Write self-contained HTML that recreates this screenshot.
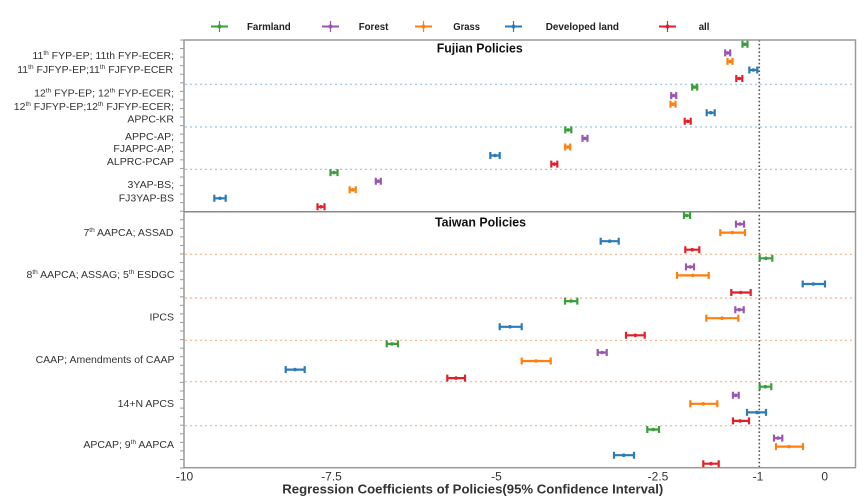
<!DOCTYPE html>
<html><head><meta charset="utf-8"><style>
html,body{margin:0;padding:0;background:#fff;}
svg{display:block;}
text{font-family:"Liberation Sans",Arial,sans-serif;}
</style></head><body>
<svg width="867" height="498" viewBox="0 0 867 498" xmlns="http://www.w3.org/2000/svg">
<defs>
<g id="c"></g>
</defs>
<!-- legend -->
<g stroke-width="2" fill="none">
 <g stroke="#3a9e3a"><line x1="211" y1="26.5" x2="228" y2="26.5"/><line x1="219.5" y1="21" x2="219.5" y2="32" stroke-width="1.2"/></g>
 <g stroke="#9a56b0"><line x1="322" y1="26.5" x2="339" y2="26.5"/><line x1="330.5" y1="21" x2="330.5" y2="32" stroke-width="1.2"/></g>
 <g stroke="#ff7f0e"><line x1="415" y1="26.5" x2="432" y2="26.5"/><line x1="423.5" y1="21" x2="423.5" y2="32" stroke-width="1.2"/></g>
 <g stroke="#2b7bba"><line x1="505" y1="26.5" x2="522" y2="26.5"/><line x1="513.5" y1="21" x2="513.5" y2="32" stroke-width="1.2"/></g>
 <g stroke="#e3202a"><line x1="659" y1="26.5" x2="676" y2="26.5"/><line x1="667.5" y1="21" x2="667.5" y2="32" stroke-width="1.2"/></g>
</g>
<g fill="#3a9e3a"><circle cx="219.5" cy="26.5" r="2"/></g>
<g fill="#9a56b0"><circle cx="330.5" cy="26.5" r="2"/></g>
<g fill="#ff7f0e"><circle cx="423.5" cy="26.5" r="2"/></g>
<g fill="#2b7bba"><circle cx="513.5" cy="26.5" r="2"/></g>
<g fill="#e3202a"><circle cx="667.5" cy="26.5" r="2"/></g>
<g font-size="10" font-weight="bold" fill="#222">
 <text x="247" y="30" textLength="43.7" lengthAdjust="spacingAndGlyphs">Farmland</text>
 <text x="358.7" y="30" textLength="29.7" lengthAdjust="spacingAndGlyphs">Forest</text>
 <text x="453.3" y="30" textLength="26.7" lengthAdjust="spacingAndGlyphs">Grass</text>
 <text x="545.7" y="30" textLength="73.3" lengthAdjust="spacingAndGlyphs">Developed land</text>
 <text x="698.7" y="30" textLength="10.7" lengthAdjust="spacingAndGlyphs">all</text>
</g>

<!-- grid dashed lines -->
<g stroke="#9cc3e0" stroke-width="1.2" stroke-dasharray="2 3">
 <line x1="185" y1="84.3" x2="855" y2="84.3"/>
 <line x1="185" y1="127" x2="855" y2="127"/>
 <line x1="185" y1="169.3" x2="855" y2="169.3"/>
</g>
<g stroke="#f5b58a" stroke-width="1.2" stroke-dasharray="2 3">
 <line x1="185" y1="254.3" x2="855" y2="254.3"/>
 <line x1="185" y1="298" x2="855" y2="298"/>
 <line x1="185" y1="340.3" x2="855" y2="340.3"/>
 <line x1="185" y1="381.7" x2="855" y2="381.7"/>
 <line x1="185" y1="425.7" x2="855" y2="425.7"/>
</g>
<!-- vertical dotted line at -1 -->
<line x1="759.3" y1="40" x2="759.3" y2="468" stroke="#555" stroke-width="1.6" stroke-dasharray="1.6 2.2"/>

<!-- frame -->
<rect x="184" y="40" width="671.5" height="427.7" fill="none" stroke="#999" stroke-width="1.5"/>
<line x1="184" y1="211.7" x2="855.5" y2="211.7" stroke="#888" stroke-width="1.5"/>
<!-- left ticks -->
<g stroke="#999" stroke-width="1">
 <line x1="180" y1="40" x2="184" y2="40"/><line x1="180" y1="48.56" x2="184" y2="48.56"/><line x1="180" y1="57.12" x2="184" y2="57.12"/><line x1="180" y1="65.68" x2="184" y2="65.68"/><line x1="180" y1="74.24" x2="184" y2="74.24"/><line x1="180" y1="82.8" x2="184" y2="82.8"/><line x1="180" y1="91.36" x2="184" y2="91.36"/><line x1="180" y1="99.92" x2="184" y2="99.92"/><line x1="180" y1="108.48" x2="184" y2="108.48"/><line x1="180" y1="117.04" x2="184" y2="117.04"/><line x1="180" y1="125.6" x2="184" y2="125.6"/><line x1="180" y1="134.16" x2="184" y2="134.16"/><line x1="180" y1="142.72" x2="184" y2="142.72"/><line x1="180" y1="151.28" x2="184" y2="151.28"/><line x1="180" y1="159.84" x2="184" y2="159.84"/><line x1="180" y1="168.4" x2="184" y2="168.4"/><line x1="180" y1="176.96" x2="184" y2="176.96"/><line x1="180" y1="185.52" x2="184" y2="185.52"/><line x1="180" y1="194.08" x2="184" y2="194.08"/><line x1="180" y1="202.64" x2="184" y2="202.64"/><line x1="180" y1="211.2" x2="184" y2="211.2"/><line x1="180" y1="219.76" x2="184" y2="219.76"/><line x1="180" y1="228.32" x2="184" y2="228.32"/><line x1="180" y1="236.88" x2="184" y2="236.88"/><line x1="180" y1="245.44" x2="184" y2="245.44"/><line x1="180" y1="254" x2="184" y2="254"/><line x1="180" y1="262.56" x2="184" y2="262.56"/><line x1="180" y1="271.12" x2="184" y2="271.12"/><line x1="180" y1="279.68" x2="184" y2="279.68"/><line x1="180" y1="288.24" x2="184" y2="288.24"/><line x1="180" y1="296.8" x2="184" y2="296.8"/><line x1="180" y1="305.36" x2="184" y2="305.36"/><line x1="180" y1="313.92" x2="184" y2="313.92"/><line x1="180" y1="322.48" x2="184" y2="322.48"/><line x1="180" y1="331.04" x2="184" y2="331.04"/><line x1="180" y1="339.6" x2="184" y2="339.6"/><line x1="180" y1="348.16" x2="184" y2="348.16"/><line x1="180" y1="356.72" x2="184" y2="356.72"/><line x1="180" y1="365.28" x2="184" y2="365.28"/><line x1="180" y1="373.84" x2="184" y2="373.84"/><line x1="180" y1="382.4" x2="184" y2="382.4"/><line x1="180" y1="390.96" x2="184" y2="390.96"/><line x1="180" y1="399.52" x2="184" y2="399.52"/><line x1="180" y1="408.08" x2="184" y2="408.08"/><line x1="180" y1="416.64" x2="184" y2="416.64"/><line x1="180" y1="425.2" x2="184" y2="425.2"/><line x1="180" y1="433.76" x2="184" y2="433.76"/><line x1="180" y1="442.32" x2="184" y2="442.32"/><line x1="180" y1="450.88" x2="184" y2="450.88"/><line x1="180" y1="459.44" x2="184" y2="459.44"/><line x1="180" y1="468" x2="184" y2="468"/>
</g>

<!-- section titles -->
<text x="436.7" y="52.5" font-size="12.5" font-weight="bold" fill="#111" textLength="86" lengthAdjust="spacingAndGlyphs">Fujian Policies</text>
<text x="435" y="226.5" font-size="12.5" font-weight="bold" fill="#111" textLength="91" lengthAdjust="spacingAndGlyphs">Taiwan Policies</text>

<!-- left labels -->
<g font-size="10.5" fill="#333" text-anchor="end">
 <text x="174" y="58.8">11<tspan font-size="6.5" dy="-4">th</tspan><tspan dy="4"> FYP-EP; 11th FYP-ECER;</tspan></text>
 <text x="173" y="72.8">11<tspan font-size="6.5" dy="-4">th</tspan><tspan dy="4"> FJFYP-EP;11</tspan><tspan font-size="6.5" dy="-4">th</tspan><tspan dy="4"> FJFYP-ECER</tspan></text>
 <text x="174" y="96.5">12<tspan font-size="6.5" dy="-4">th</tspan><tspan dy="4">  FYP-EP; 12</tspan><tspan font-size="6.5" dy="-4">th</tspan><tspan dy="4"> FYP-ECER;</tspan></text>
 <text x="174" y="109.8">12<tspan font-size="6.5" dy="-4">th</tspan><tspan dy="4"> FJFYP-EP;12</tspan><tspan font-size="6.5" dy="-4">th</tspan><tspan dy="4"> FJFYP-ECER;</tspan></text>
 <text x="174" y="122.5">APPC-KR</text>
 <text x="174" y="139.8">APPC-AP;</text>
 <text x="174" y="151.8">FJAPPC-AP;</text>
 <text x="174" y="165">ALPRC-PCAP</text>
 <text x="174" y="187.8">3YAP-BS;</text>
 <text x="174" y="201.5">FJ3YAP-BS</text>
 <text x="173.5" y="236">7<tspan font-size="6.5" dy="-4">th</tspan><tspan dy="4">  AAPCA; ASSAD</tspan></text>
 <text x="174.5" y="277.8">8<tspan font-size="6.5" dy="-4">th</tspan><tspan dy="4"> AAPCA; ASSAG; 5</tspan><tspan font-size="6.5" dy="-4">th</tspan><tspan dy="4"> ESDGC</tspan></text>
 <text x="174" y="320.5">IPCS</text>
 <text x="174.5" y="362.8">CAAP; Amendments of CAAP</text>
 <text x="174" y="406.8">14+N APCS</text>
 <text x="174" y="448">APCAP; 9<tspan font-size="6.5" dy="-4">th</tspan><tspan dy="4"> AAPCA</tspan></text>
</g>

<!-- x tick labels -->
<g font-size="12" fill="#333" text-anchor="middle">
 <text x="184.5" y="480.5">-10</text>
 <text x="331.5" y="480.5">-7.5</text>
 <text x="496.5" y="480.5">-5</text>
 <text x="658" y="480.5">-2.5</text>
 <text x="758" y="480.5">-1</text>
 <text x="824.7" y="480.5">0</text>
</g>
<text x="282.3" y="493.5" font-size="13" font-weight="bold" fill="#333" textLength="381" lengthAdjust="spacingAndGlyphs">Regression Coefficients of Policies(95% Confidence Interval)</text>

<!-- error bars -->
<g stroke-width="2.2" fill="none" id="bars">
<!-- Fujian -->
<g stroke="#3a9e3a">
 <path d="M742.5 44.3H747.5M742.5 40.8V47.8M747.5 40.8V47.8"/>
 <path d="M692.2 87.1H697.2M692.2 83.6V90.6M697.2 83.6V90.6"/>
 <path d="M565.3 129.9H571.3M565.3 126.4V133.4M571.3 126.4V133.4"/>
 <path d="M330.5 172.6H337.5M330.5 169.1V176.1M337.5 169.1V176.1"/>
</g>
<g stroke="#9a56b0">
 <path d="M725.2 52.9H730.2M725.2 49.4V56.4M730.2 49.4V56.4"/>
 <path d="M671.2 95.6H676.2M671.2 92.1V99.1M676.2 92.1V99.1"/>
 <path d="M582.5 138.4H587.5M582.5 134.9V141.9M587.5 134.9V141.9"/>
 <path d="M375.8 181.2H380.8M375.8 177.7V184.7M380.8 177.7V184.7"/>
</g>
<g stroke="#ff7f0e">
 <path d="M727.5 61.4H732.5M727.5 57.9V64.9M732.5 57.9V64.9"/>
 <path d="M670.5 104.2H675.5M670.5 100.7V107.7M675.5 100.7V107.7"/>
 <path d="M565.2 147H570.2M565.2 143.5V150.5M570.2 143.5V150.5"/>
 <path d="M349.7 189.7H355.7M349.7 186.2V193.2M355.7 186.2V193.2"/>
</g>
<g stroke="#2b7bba">
 <path d="M749.3 70H757.3M749.3 66.5V73.5M757.3 66.5V73.5"/>
 <path d="M706.7 112.7H714.7M706.7 109.2V116.2M714.7 109.2V116.2"/>
 <path d="M490.3 155.5H499.7M490.3 152V159M499.7 152V159"/>
 <path d="M214.3 198.3H225.7M214.3 194.8V201.8M225.7 194.8V201.8"/>
</g>
<g stroke="#e3202a">
 <path d="M736.3 78.5H742.3M736.3 75V82M742.3 75V82"/>
 <path d="M684.7 121.3H690.7M684.7 117.8V124.8M690.7 117.8V124.8"/>
 <path d="M551.3 164.1H557.3M551.3 160.6V167.6M557.3 160.6V167.6"/>
 <path d="M317.5 206.8H324.5M317.5 203.3V210.3M324.5 203.3V210.3"/>
</g>
<!-- Taiwan -->
<g stroke="#3a9e3a">
 <path d="M684 215.5H690M684 212V219M690 212V219"/>
 <path d="M759.7 258.3H772.3M759.7 254.8V261.8M772.3 254.8V261.8"/>
 <path d="M565 301.1H577.3M565 297.6V304.6M577.3 297.6V304.6"/>
 <path d="M386.7 343.9H398M386.7 340.4V347.4M398 340.4V347.4"/>
 <path d="M759.7 386.7H771.3M759.7 383.2V390.2M771.3 383.2V390.2"/>
 <path d="M647.3 429.5H659M647.3 426V433M659 426V433"/>
</g>
<g stroke="#9a56b0">
 <path d="M736 224.1H744M736 220.6V227.6M744 220.6V227.6"/>
 <path d="M686 266.9H694M686 263.4V270.4M694 263.4V270.4"/>
 <path d="M735.3 309.7H743.7M735.3 306.2V313.2M743.7 306.2V313.2"/>
 <path d="M597.7 352.5H606.7M597.7 349V356M606.7 349V356"/>
 <path d="M733 395.3H738.7M733 391.8V398.8M738.7 391.8V398.8"/>
 <path d="M774 438.1H782.3M774 434.6V441.6M782.3 434.6V441.6"/>
</g>
<g stroke="#ff7f0e">
 <path d="M720.3 232.6H745M720.3 229.1V236.1M745 229.1V236.1"/>
 <path d="M677 275.4H708.7M677 271.9V278.9M708.7 271.9V278.9"/>
 <path d="M706.3 318.2H738.3M706.3 314.7V321.7M738.3 314.7V321.7"/>
 <path d="M521.7 361H550.7M521.7 357.5V364.5M550.7 357.5V364.5"/>
 <path d="M690.3 403.8H717.3M690.3 400.3V407.3M717.3 400.3V407.3"/>
 <path d="M776 446.6H803M776 443.1V450.1M803 443.1V450.1"/>
</g>
<g stroke="#2b7bba">
 <path d="M600.7 241.2H618.7M600.7 237.7V244.7M618.7 237.7V244.7"/>
 <path d="M802.7 284H825M802.7 280.5V287.5M825 280.5V287.5"/>
 <path d="M499.7 326.8H521.7M499.7 323.3V330.3M521.7 323.3V330.3"/>
 <path d="M285.7 369.6H304.7M285.7 366.1V373.1M304.7 366.1V373.1"/>
 <path d="M747 412.4H766M747 408.9V415.9M766 408.9V415.9"/>
 <path d="M614 455.2H634M614 451.7V458.7M634 451.7V458.7"/>
</g>
<g stroke="#e3202a">
 <path d="M685.3 249.7H699.3M685.3 246.2V253.2M699.3 246.2V253.2"/>
 <path d="M731.3 292.5H750.7M731.3 289V296M750.7 289V296"/>
 <path d="M626 335.3H644.7M626 331.8V338.8M644.7 331.8V338.8"/>
 <path d="M447.3 378.1H465M447.3 374.6V381.6M465 374.6V381.6"/>
 <path d="M733 420.9H749M733 417.4V424.4M749 417.4V424.4"/>
 <path d="M703.3 463.7H718.7M703.3 460.2V467.2M718.7 460.2V467.2"/>
</g>
</g>
<!-- center dots -->
<g fill="#3a9e3a"><circle cx="745" cy="44.3" r="1.8"/><circle cx="694.7" cy="87.1" r="1.8"/><circle cx="568.3" cy="129.9" r="1.8"/><circle cx="334" cy="172.6" r="1.8"/><circle cx="686.7" cy="215.5" r="1.8"/><circle cx="766" cy="258.3" r="1.8"/><circle cx="571" cy="301.1" r="1.8"/><circle cx="392" cy="343.9" r="1.8"/><circle cx="765.3" cy="386.7" r="1.8"/><circle cx="653.3" cy="429.5" r="1.8"/></g>
<g fill="#9a56b0"><circle cx="727.7" cy="52.9" r="1.8"/><circle cx="673.7" cy="95.6" r="1.8"/><circle cx="585" cy="138.4" r="1.8"/><circle cx="378.3" cy="181.2" r="1.8"/><circle cx="740" cy="224.1" r="1.8"/><circle cx="690.3" cy="266.9" r="1.8"/><circle cx="739.3" cy="309.7" r="1.8"/><circle cx="602" cy="352.5" r="1.8"/><circle cx="735.7" cy="395.3" r="1.8"/><circle cx="778" cy="438.1" r="1.8"/></g>
<g fill="#ff7f0e"><circle cx="730" cy="61.4" r="1.8"/><circle cx="673" cy="104.2" r="1.8"/><circle cx="567.7" cy="147" r="1.8"/><circle cx="352.7" cy="189.7" r="1.8"/><circle cx="732.3" cy="232.6" r="1.8"/><circle cx="692.7" cy="275.4" r="1.8"/><circle cx="722" cy="318.2" r="1.8"/><circle cx="536" cy="361" r="1.8"/><circle cx="703.3" cy="403.8" r="1.8"/><circle cx="789" cy="446.6" r="1.8"/></g>
<g fill="#2b7bba"><circle cx="753.3" cy="70" r="1.8"/><circle cx="710.7" cy="112.7" r="1.8"/><circle cx="495" cy="155.5" r="1.8"/><circle cx="220" cy="198.3" r="1.8"/><circle cx="609.7" cy="241.2" r="1.8"/><circle cx="813.3" cy="284" r="1.8"/><circle cx="510" cy="326.8" r="1.8"/><circle cx="295" cy="369.6" r="1.8"/><circle cx="757" cy="412.4" r="1.8"/><circle cx="623.7" cy="455.2" r="1.8"/></g>
<g fill="#e3202a"><circle cx="739.3" cy="78.5" r="1.8"/><circle cx="687.7" cy="121.3" r="1.8"/><circle cx="554.3" cy="164.1" r="1.8"/><circle cx="321" cy="206.8" r="1.8"/><circle cx="692.3" cy="249.7" r="1.8"/><circle cx="740.7" cy="292.5" r="1.8"/><circle cx="635.3" cy="335.3" r="1.8"/><circle cx="456" cy="378.1" r="1.8"/><circle cx="740" cy="420.9" r="1.8"/><circle cx="711" cy="463.7" r="1.8"/></g>
</svg>
</body></html>
